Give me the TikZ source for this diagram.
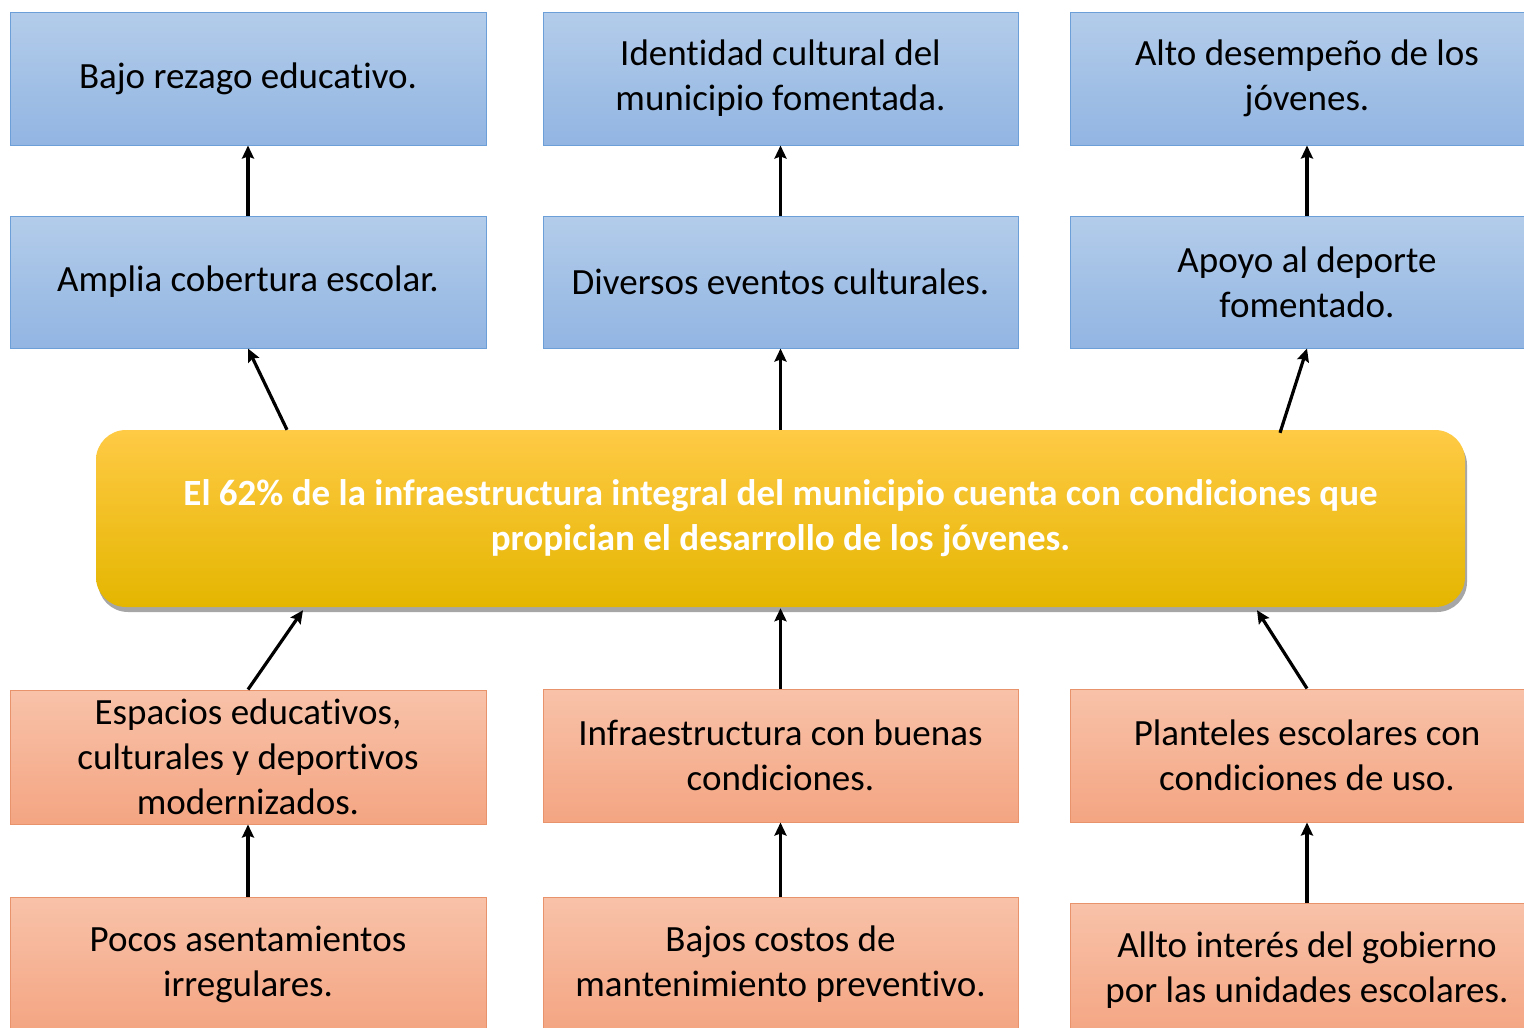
\documentclass[tikz,border=0pt]{standalone}
\usepackage{fontspec}
\setmainfont{Carlito}[Ligatures={NoCommon}]
\usetikzlibrary{arrows.meta,shadows}
\definecolor{bluetop}{HTML}{B3CCEA}
\definecolor{bluebot}{HTML}{92B5E2}
\definecolor{blueline}{HTML}{6C9FD8}
\definecolor{saltop}{HTML}{F8C2A9}
\definecolor{salbot}{HTML}{F4A582}
\definecolor{salline}{HTML}{E9936C}
\definecolor{goldtop}{HTML}{FFCA45}
\definecolor{goldmid}{HTML}{FFC800}
\definecolor{goldbot}{HTML}{E4B600}
\tikzset{
  txt/.style={font=\fontsize{37}{45}\selectfont, align=center, text=black},
  bluebox/.style={txt, rectangle, draw=blueline, line width=1pt, top color=bluetop, bottom color=bluebot, inner sep=0pt},
  salbox/.style={txt, rectangle, draw=salline, line width=1pt, top color=saltop, bottom color=salbot, inner sep=0pt},
  goldbox/.style={rectangle, rounded corners=30pt, draw=none, top color=goldtop, middle color=goldmid, bottom color=goldbot,
     font=\fontsize{37}{45}\selectfont\bfseries, text=white, align=center, inner sep=0pt,
     drop shadow={shadow xshift=2pt, shadow yshift=-5pt, opacity=0.35, fill=black}},
  arr/.style={line width=3.2pt, -{Stealth[length=13pt,width=12pt,inset=2pt]}}
}
\begin{document}
\begin{tikzpicture}[x=1pt,y=-1pt]
\clip (0,0) rectangle (1524,1028);
\fill[white] (0,0) rectangle (1524,1028);
% top row
\node[bluebox, minimum width=476pt, minimum height=133pt] (r1a) at (248,78.5) {Bajo rezago educativo.};
\node[bluebox, minimum width=475pt, minimum height=133pt] (r1b) at (780.5,78.5) {Identidad cultural del\\municipio fomentada.};
\node[bluebox, minimum width=474pt, minimum height=133pt] (r1c) at (1307,78.5) {Alto desempeño de los\\jóvenes.};
% second row
\node[bluebox, minimum width=476pt, minimum height=132pt] (r2a) at (248,282) {Amplia cobertura escolar.};
\node[bluebox, minimum width=475pt, minimum height=132pt] (r2b) at (780.5,282) {Diversos eventos culturales.};
\node[bluebox, minimum width=474pt, minimum height=132pt] (r2c) at (1307,282) {Apoyo al deporte\\fomentado.};
% center
\node[goldbox, minimum width=1369pt, minimum height=177pt] (c) at (780.5,518.5) {El 62\% de la infraestructura integral del municipio cuenta con condiciones que\\propician el desarrollo de los jóvenes.};
% fourth row
\node[salbox, minimum width=476pt, minimum height=134pt] (r4a) at (248,757) {Espacios educativos,\\culturales y deportivos\\modernizados.};
\node[salbox, minimum width=475pt, minimum height=133pt] (r4b) at (780.5,755.5) {Infraestructura con buenas\\condiciones.};
\node[salbox, minimum width=474pt, minimum height=133pt] (r4c) at (1307,755.5) {Planteles escolares con\\condiciones de uso.};
% fifth row
\node[salbox, minimum width=476pt, minimum height=134pt] (r5a) at (248,964) {Pocos asentamientos\\irregulares.};
\node[salbox, minimum width=475pt, minimum height=134pt] (r5b) at (780.5,964) {Bajos costos de\\mantenimiento preventivo.};
\node[salbox, minimum width=474pt, minimum height=134pt] (r5c) at (1307,970) {Allto interés del gobierno\\por las unidades escolares.};
% arrows
\draw[arr] (r2a.north) -- (r1a.south);
\draw[arr] (r2b.north) -- (r1b.south);
\draw[arr] (r2c.north) -- (r1c.south);
\draw[arr] ([xshift=-493.5pt]c.north) -- (r2a.south);
\draw[arr] (c.north) -- (r2b.south);
\draw[arr] ([xshift=499.5pt,yshift=-3pt]c.north) -- (r2c.south);
\draw[arr] (r4a.north) -- ([xshift=-477.5pt,yshift=-3pt]c.south);
\draw[arr] (r4b.north) -- ([yshift=-1pt]c.south);
\draw[arr] (r4c.north) -- ([xshift=476.5pt,yshift=-3pt]c.south);
\draw[arr] (r5a.north) -- (r4a.south);
\draw[arr] (r5b.north) -- (r4b.south);
\draw[arr] (r5c.north) -- (r4c.south);
\end{tikzpicture}
\end{document}
